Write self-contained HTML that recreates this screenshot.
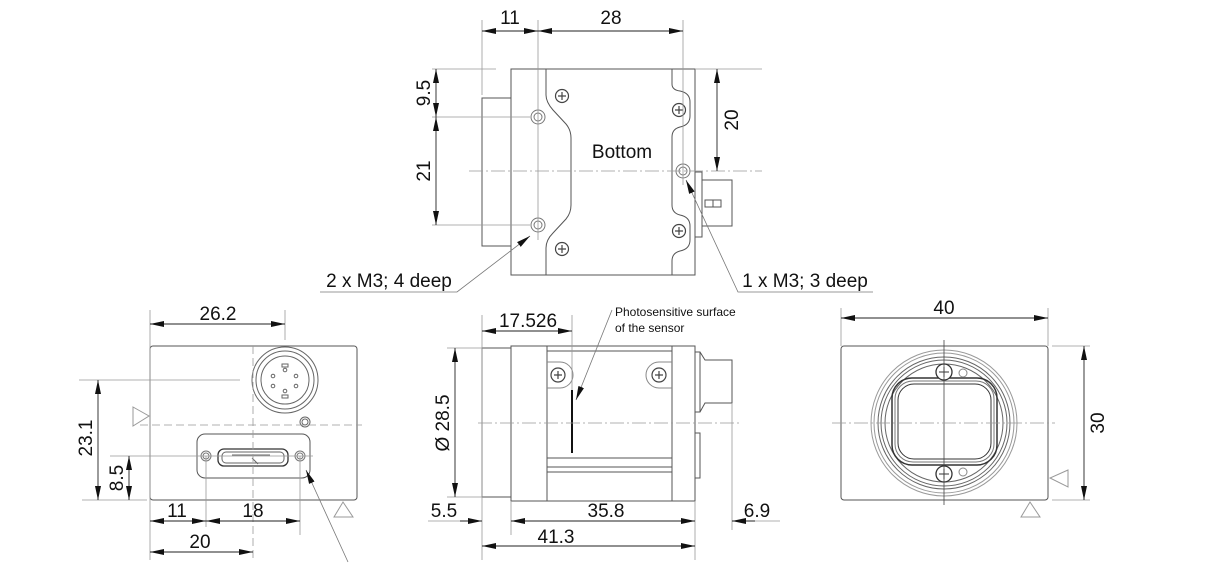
<!DOCTYPE html>
<html><head><meta charset="utf-8"><style>
html,body{margin:0;padding:0;background:#fff;}
svg{display:block;}
text{font-family:"Liberation Sans",Arial,sans-serif;fill:#111;}
</style></head><body>
<svg width="1230" height="567" viewBox="0 0 1230 567" xmlns="http://www.w3.org/2000/svg">
<defs>
<marker id="a" viewBox="0 0 14 6" refX="14" refY="3" markerWidth="14" markerHeight="6" markerUnits="userSpaceOnUse" orient="auto-start-reverse"><path d="M0,0 L14,3 L0,6 z" fill="#111"/></marker>
</defs>
<g fill="none" stroke="#555" stroke-width="1">
<!-- ============ TOP VIEW ============ -->
<rect x="482" y="98" width="29" height="148"/>
<rect x="511" y="69" width="184" height="206"/>
<path d="M546,69 V95 Q546,102 553,110 L566,124 Q571,130 571,138 V205 Q571,213 566,219 L553,233 Q546,240 546,248 V275"/>
<path d="M672,69 V84 Q672,90 680,91 Q690,93 690,102 V116 Q690,125 680,127 Q672,129 672,137 V205 Q672,213 680,215 Q690,217 690,226 V240 Q690,249 680,251 Q672,253 672,261 V275"/>
<rect x="695" y="172" width="7" height="65"/>
<rect x="702" y="180" width="30" height="46"/>
<rect x="705" y="200" width="16" height="7"/>
<line x1="713" y1="200" x2="713" y2="207"/>
<g stroke="#777"><circle cx="538" cy="117" r="7"/><circle cx="538" cy="117" r="4"/>
<circle cx="538" cy="225" r="7"/><circle cx="538" cy="225" r="4"/>
<circle cx="683" cy="171" r="7"/><circle cx="683" cy="171" r="4"/></g>
<g stroke="#444" stroke-width="1.2">
<circle cx="562" cy="96" r="6.5"/><circle cx="562" cy="249" r="6.5"/><circle cx="679" cy="110" r="6.5"/><circle cx="679" cy="231" r="6.5"/>
<path d="M562,92V100M558,96H566M562,245V253M558,249H566M679,106V114M675,110H683M679,227V235M675,231H683"/>
</g>
<g stroke="#999" stroke-width="0.8">
<line x1="469" y1="171" x2="762" y2="171" stroke-dasharray="14,3,2,3"/>
<line x1="482" y1="20" x2="482" y2="95"/>
<line x1="538" y1="20" x2="538" y2="240"/>
<line x1="683" y1="20" x2="683" y2="185"/>
<line x1="432" y1="69" x2="496" y2="69"/>
<line x1="432" y1="117" x2="530" y2="117"/>
<line x1="432" y1="225" x2="530" y2="225"/>
<line x1="695" y1="69" x2="762" y2="69"/>
</g>
<g stroke="#222" stroke-width="0.9">
<line x1="482" y1="31" x2="538" y2="31" marker-start="url(#a)" marker-end="url(#a)"/>
<line x1="538" y1="31" x2="683" y2="31" marker-start="url(#a)" marker-end="url(#a)"/>
<line x1="436" y1="69" x2="436" y2="117" marker-start="url(#a)" marker-end="url(#a)"/>
<line x1="436" y1="117" x2="436" y2="225" marker-start="url(#a)" marker-end="url(#a)"/>
<line x1="717" y1="69" x2="717" y2="171" marker-start="url(#a)" marker-end="url(#a)"/>
</g>
<g stroke="#777" stroke-width="0.8">
<polyline points="320,292 457,292 530,236" marker-end="url(#a)"/>
<polyline points="873,292 738,292 686,180" marker-end="url(#a)"/>
</g>

<!-- ============ LEFT FRONT VIEW ============ -->
<rect x="150" y="346" width="207" height="154" rx="3"/>
<g stroke="#666"><circle cx="285" cy="380" r="33"/><circle cx="285" cy="380" r="29"/><circle cx="285" cy="380" r="24"/>
<circle cx="273" cy="376" r="1.8"/><circle cx="296" cy="376" r="1.8"/><circle cx="273" cy="386" r="1.8"/><circle cx="296" cy="386" r="1.8"/><circle cx="285" cy="370" r="1.8"/><circle cx="285" cy="391" r="1.8"/>
<rect x="282" y="364" width="6" height="3"/><rect x="282" y="395" width="6" height="3"/>
<circle cx="305" cy="422" r="5"/><circle cx="305" cy="422" r="3"/></g>
<rect x="197" y="434" width="113" height="44" rx="8"/>
<rect x="218" y="449" width="70" height="17" rx="6" stroke="#333" stroke-width="1.3"/>
<rect x="222" y="452" width="62" height="11" rx="4" stroke="#666"/>
<path d="M232,455 H270 M252,458 L258,464" stroke="#666"/>
<g stroke="#777"><circle cx="206" cy="456" r="5"/><circle cx="206" cy="456" r="3"/><circle cx="300" cy="456" r="5"/><circle cx="300" cy="456" r="3"/></g>
<polygon points="133,407 149,416 133,426" stroke="#999"/>
<polygon points="334,517 343,502 353,517" stroke="#999"/>
<g stroke="#999" stroke-width="0.8">
<line x1="140" y1="425" x2="362" y2="425" stroke-dasharray="8,4"/>
<line x1="150" y1="310" x2="150" y2="560"/>
<line x1="285" y1="310" x2="285" y2="340"/>
<line x1="79" y1="380" x2="240" y2="380"/>
<line x1="82" y1="500" x2="147" y2="500"/>
<line x1="110" y1="456" x2="313" y2="456"/>
<line x1="206" y1="456" x2="206" y2="527"/>
<line x1="300" y1="456" x2="300" y2="535"/>
<line x1="253" y1="346" x2="253" y2="560" stroke-dasharray="8,4"/>
</g>
<g stroke="#222" stroke-width="0.9">
<line x1="150" y1="324" x2="285" y2="324" marker-start="url(#a)" marker-end="url(#a)"/>
<line x1="98" y1="380" x2="98" y2="500" marker-start="url(#a)" marker-end="url(#a)"/>
<line x1="129" y1="456" x2="129" y2="500" marker-start="url(#a)" marker-end="url(#a)"/>
<line x1="150" y1="521" x2="206" y2="521" marker-start="url(#a)" marker-end="url(#a)"/>
<line x1="206" y1="521" x2="300" y2="521" marker-start="url(#a)" marker-end="url(#a)"/>
<line x1="150" y1="552" x2="253" y2="552" marker-start="url(#a)" marker-end="url(#a)"/>
</g>
<line x1="348" y1="562" x2="306" y2="470" stroke="#777" stroke-width="0.8" marker-end="url(#a)"/>

<!-- ============ SIDE VIEW ============ -->
<rect x="482" y="348" width="29" height="149"/>
<rect x="511" y="346" width="184" height="155"/>
<line x1="547" y1="346" x2="547" y2="501"/>
<line x1="672" y1="346" x2="672" y2="501"/>
<line x1="547" y1="351" x2="672" y2="351"/>
<line x1="547" y1="458" x2="672" y2="458"/>
<line x1="547" y1="467" x2="672" y2="467"/>
<line x1="547" y1="472" x2="672" y2="472"/>
<path d="M547,362 H560 A13,13 0 0 1 560,388 H547" stroke="#888"/>
<path d="M672,362 H659 A13,13 0 0 0 659,388 H672" stroke="#888"/>
<g stroke="#444" stroke-width="1.2"><circle cx="558" cy="375" r="7"/><circle cx="659" cy="375" r="7"/>
<path d="M558,371V379M554,375H562M659,371V379M655,375H663"/></g>
<path d="M695,352 H700 L705,360 H732 V403 H705 L700,412 H695"/>
<line x1="700" y1="352" x2="700" y2="412"/>
<rect x="695" y="433" width="5" height="45"/>
<line x1="572" y1="390" x2="572" y2="453" stroke="#111" stroke-width="2"/>
<g stroke="#999" stroke-width="0.8">
<line x1="478" y1="423" x2="740" y2="423" stroke-dasharray="14,3,2,3"/>
<line x1="482" y1="315" x2="482" y2="560"/>
<line x1="572" y1="315" x2="572" y2="390"/>
<line x1="447" y1="348" x2="482" y2="348"/>
<line x1="447" y1="497" x2="482" y2="497"/>
<line x1="511" y1="501" x2="511" y2="535"/>
<line x1="695" y1="501" x2="695" y2="560"/>
<line x1="732" y1="403" x2="732" y2="530"/>
<line x1="428" y1="521" x2="482" y2="521"/>
<line x1="732" y1="521" x2="780" y2="521"/>
</g>
<g stroke="#222" stroke-width="0.9">
<line x1="482" y1="331" x2="572" y2="331" marker-start="url(#a)" marker-end="url(#a)"/>
<line x1="455" y1="348" x2="455" y2="497" marker-start="url(#a)" marker-end="url(#a)"/>
<line x1="460" y1="521" x2="482" y2="521" marker-end="url(#a)"/>
<line x1="511" y1="521" x2="695" y2="521" marker-start="url(#a)" marker-end="url(#a)"/>
<line x1="755" y1="521" x2="732" y2="521" marker-end="url(#a)"/>
<line x1="482" y1="546" x2="695" y2="546" marker-start="url(#a)" marker-end="url(#a)"/>
</g>
<line x1="612" y1="310" x2="576" y2="400" stroke="#777" stroke-width="0.8" marker-end="url(#a)"/>

<!-- ============ RIGHT FRONT VIEW ============ -->
<rect x="841" y="346" width="207" height="154" rx="3"/>
<g stroke="#999"><circle cx="944" cy="423" r="73"/><circle cx="944" cy="423" r="70"/></g>
<g stroke="#666"><circle cx="944" cy="423" r="66"/><circle cx="944" cy="423" r="63"/><circle cx="944" cy="423" r="59"/></g>
<rect x="892" y="378" width="105" height="87" rx="20" stroke="#333" stroke-width="1.5"/>
<rect x="895" y="381" width="99" height="81" rx="18" stroke="#777"/>
<rect x="898" y="384" width="93" height="75" rx="16" stroke="#333"/>
<g stroke="#333" stroke-width="1.3" fill="#fff"><circle cx="944" cy="372" r="8"/><circle cx="944" cy="474" r="8"/></g>
<path d="M944,367V377M939,372H949M944,469V479M939,474H949" stroke="#333"/>
<g stroke="#888"><circle cx="963" cy="373" r="4"/><circle cx="963" cy="472" r="4"/></g>
<polygon points="1068,470 1050,478 1068,487" stroke="#999"/>
<polygon points="1021,517 1030,502 1040,517" stroke="#999"/>
<g stroke="#999" stroke-width="0.8">
<line x1="944" y1="340" x2="944" y2="505" stroke="#444"/>
<line x1="832" y1="423" x2="1055" y2="423" stroke-dasharray="14,3,2,3"/>
<line x1="841" y1="308" x2="841" y2="346"/>
<line x1="1048" y1="308" x2="1048" y2="346"/>
<line x1="1052" y1="346" x2="1090" y2="346"/>
<line x1="1052" y1="500" x2="1090" y2="500"/>
</g>
<g stroke="#222" stroke-width="0.9">
<line x1="841" y1="318" x2="1048" y2="318" marker-start="url(#a)" marker-end="url(#a)"/>
<line x1="1084" y1="346" x2="1084" y2="500" marker-start="url(#a)" marker-end="url(#a)"/>
</g>
</g>

<!-- ============ TEXT ============ -->
<g font-size="19" text-anchor="middle">
<text x="510" y="24">11</text>
<text x="611" y="24">28</text>
<text x="622" y="158">Bottom</text>
<text transform="translate(430,93) rotate(-90)">9.5</text>
<text transform="translate(430,171) rotate(-90)">21</text>
<text transform="translate(738,120) rotate(-90)">20</text>
<text x="389" y="287">2 x M3; 4 deep</text>
<text x="805" y="287">1 x M3; 3 deep</text>
<text x="218" y="320">26.2</text>
<text transform="translate(92,438) rotate(-90)">23.1</text>
<text transform="translate(123,478) rotate(-90)">8.5</text>
<text x="177" y="517">11</text>
<text x="253" y="517">18</text>
<text x="200" y="548">20</text>
<text x="528" y="327">17.526</text>
<text transform="translate(449,423) rotate(-90)">Ø 28.5</text>
<text x="444" y="517">5.5</text>
<text x="606" y="517">35.8</text>
<text x="757" y="517">6.9</text>
<text x="556" y="543">41.3</text>
<text x="944" y="314">40</text>
<text transform="translate(1104,423) rotate(-90)">30</text>
</g>
<g font-size="12">
<text x="615" y="316">Photosensitive surface</text>
<text x="615" y="332">of the sensor</text>
</g>
</svg>
</body></html>
